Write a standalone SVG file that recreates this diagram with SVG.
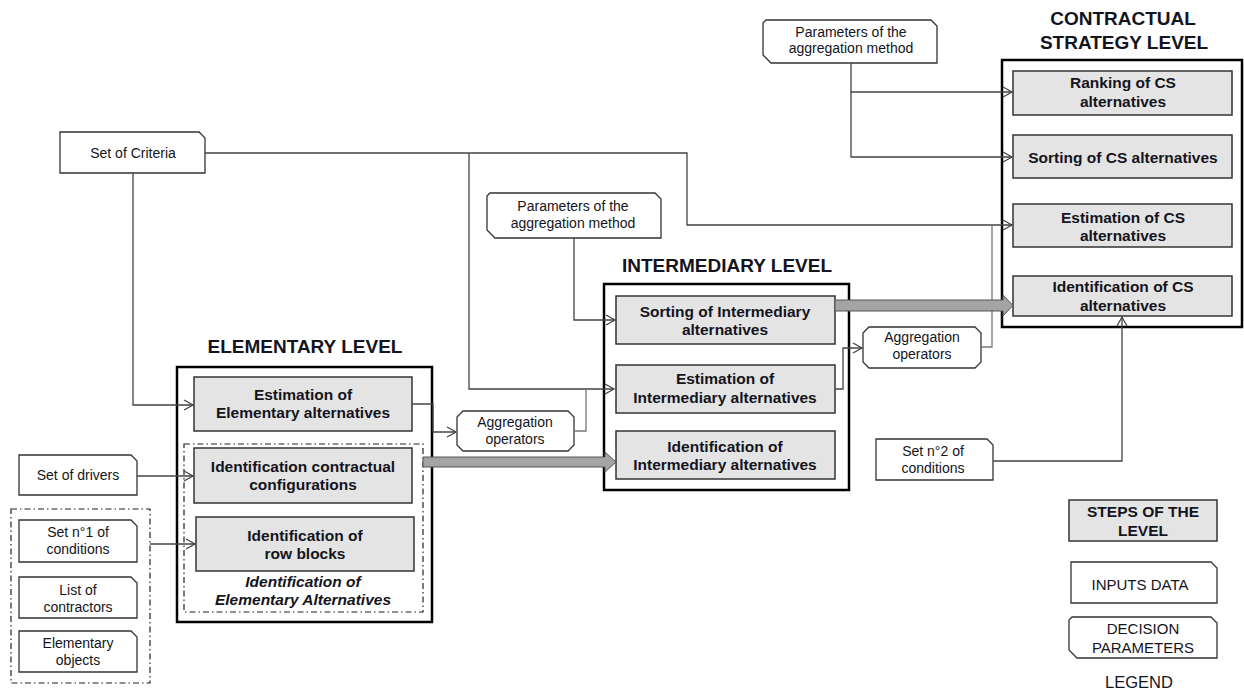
<svg xmlns="http://www.w3.org/2000/svg" width="1244" height="693" viewBox="0 0 1244 693">
<defs>
<style>
.lvl{fill:#fff;stroke:#000;stroke-width:2.5}
.step{fill:#e4e4e4;stroke:#333;stroke-width:1.5}
.inp{fill:#fff;stroke:#333;stroke-width:1.3}
.grp{fill:none;stroke:#222;stroke-width:1.2;stroke-dasharray:6,3,1.5,3}
.con{fill:none;stroke:#444;stroke-width:1.3}
.con2{fill:none;stroke:#777;stroke-width:1.3}
.big{fill:#a4a4a4;stroke:#555;stroke-width:1}
text{font-family:"Liberation Sans",Arial,sans-serif;fill:#141420;text-anchor:middle}
.t{font-size:19px;font-weight:bold}
.s{font-size:15.5px;font-weight:bold}
.i{font-size:14px}
.it{font-size:15.5px;font-weight:bold;font-style:italic}
.lg{font-size:15px}
</style>
<marker id="ar" markerUnits="userSpaceOnUse" markerWidth="12" markerHeight="12" refX="10" refY="6" orient="auto">
<path d="M1,1 L10,6 L1,11" fill="none" stroke="#444" stroke-width="1.3"/>
</marker>
</defs>

<!-- level titles -->
<text class="t" x="305" y="353">ELEMENTARY LEVEL</text>
<text class="t" x="727" y="272">INTERMEDIARY LEVEL</text>
<text class="t" x="1123" y="25">CONTRACTUAL</text>
<text class="t" x="1124" y="49">STRATEGY LEVEL</text>

<!-- level boxes -->
<g id="elementary-level">
<rect class="lvl" x="177" y="367" width="255" height="255"/>
<rect class="grp" x="184" y="444" width="239" height="168"/>
<text class="it" x="303" y="587">Identification  of</text>
<text class="it" x="303" y="605">Elementary Alternatives</text>
</g>
<g id="intermediary-level"><rect class="lvl" x="604" y="284" width="245" height="206"/></g>
<g id="cs-level"><rect class="lvl" x="1002" y="60" width="240" height="267"/></g>

<!-- step nodes -->
<g id="est-elem"><rect class="step" x="194" y="377" width="218" height="54"/>
<text class="s" x="303" y="400">Estimation of</text><text class="s" x="303" y="418">Elementary alternatives</text></g>
<g id="id-config"><rect class="step" x="194" y="448" width="218" height="55"/>
<text class="s" x="303" y="472">Identification contractual</text><text class="s" x="303" y="490">configurations</text></g>
<g id="id-rows"><rect class="step" x="196" y="517" width="218" height="54"/>
<text class="s" x="305" y="541">Identification of</text><text class="s" x="305" y="559">row blocks</text></g>

<g id="sort-inter"><rect class="step" x="616" y="296" width="219" height="48"/>
<text class="s" x="725" y="317">Sorting of Intermediary</text><text class="s" x="725" y="335">alternatives</text></g>
<g id="est-inter"><rect class="step" x="616" y="365" width="219" height="48"/>
<text class="s" x="725" y="384">Estimation of</text><text class="s" x="725" y="403">Intermediary alternatives</text></g>
<g id="id-inter"><rect class="step" x="616" y="431" width="219" height="48"/>
<text class="s" x="725" y="452">Identification of</text><text class="s" x="725" y="470">Intermediary alternatives</text></g>

<g id="rank-cs"><rect class="step" x="1013" y="71" width="219" height="44"/>
<text class="s" x="1123" y="88">Ranking of CS</text><text class="s" x="1123" y="107">alternatives</text></g>
<g id="sort-cs"><rect class="step" x="1013" y="135" width="219" height="43"/>
<text class="s" x="1123" y="163">Sorting of CS alternatives</text></g>
<g id="est-cs"><rect class="step" x="1013" y="204" width="219" height="43"/>
<text class="s" x="1123" y="223">Estimation of CS</text><text class="s" x="1123" y="241">alternatives</text></g>
<g id="id-cs"><rect class="step" x="1013" y="276" width="219" height="40"/>
<text class="s" x="1123" y="292">Identification of  CS</text><text class="s" x="1123" y="311">alternatives</text></g>

<!-- input nodes -->
<g id="set-criteria"><path class="inp" d="M60,132 H199 L205,138 V173 H60 Z"/>
<text class="i" x="133" y="158">Set of Criteria</text></g>
<g id="set-drivers"><path class="inp" d="M19,455 H131 L137,461 V495 H19 Z"/>
<text class="i" x="78" y="480">Set of drivers</text></g>
<g id="elem-group"><rect class="grp" x="11" y="509" width="139" height="174"/></g>
<g id="set-cond1"><path class="inp" d="M19,520 H131 L137,526 V562 H19 Z"/>
<text class="i" x="78" y="537">Set n°1 of</text><text class="i" x="78" y="554">conditions</text></g>
<g id="list-contractors"><path class="inp" d="M19,577 H131 L137,583 V618 H19 Z"/>
<text class="i" x="78" y="595">List of</text><text class="i" x="78" y="612">contractors</text></g>
<g id="elem-objects"><path class="inp" d="M19,631 H131 L137,637 V672 H19 Z"/>
<text class="i" x="78" y="648">Elementary</text><text class="i" x="78" y="665">objects</text></g>
<g id="set-cond2"><path class="inp" d="M876,439 H987 L993,445 V480 H876 Z"/>
<text class="i" x="933" y="456">Set n°2 of</text><text class="i" x="933" y="473">conditions</text></g>

<!-- decision parameters -->
<g id="params-mid"><path class="inp" d="M490,193 H655 L661,199 V238 H495 L487,230 V196 Z"/>
<text class="i" x="573" y="211">Parameters of the</text><text class="i" x="573" y="228">aggregation method</text></g>
<g id="params-top"><path class="inp" d="M766,20 H931 L937,26 V63 H771 L763,55 V23 Z"/>
<text class="i" x="851" y="37">Parameters of the</text><text class="i" x="851" y="53">aggregation method</text></g>
<g id="agg-left"><path class="inp" d="M463,411 H568 L574,417 V445 L568,451 H463 L457,445 V417 Z"/>
<text class="i" x="515" y="427">Aggregation</text><text class="i" x="515" y="444">operators</text></g>
<g id="agg-right"><path class="inp" d="M869,327 H975 L981,333 V362 L975,368 H869 L863,362 V333 Z"/>
<text class="i" x="922" y="342">Aggregation</text><text class="i" x="922" y="359">operators</text></g>

<!-- connectors -->
<g id="connectors">
<path class="con" d="M133,173 V405 H193" marker-end="url(#ar)"/>
<path class="con" d="M205,153 H687 V225 H1012" marker-end="url(#ar)"/>
<path class="con" d="M469,153 V389 H614" marker-end="url(#ar)"/>
<path class="con" d="M137,476 H193" marker-end="url(#ar)"/>
<path class="con" d="M150,544 H195" marker-end="url(#ar)"/>
<path class="con" d="M412,404 H433 V432 H456" marker-end="url(#ar)"/>
<path class="con2" d="M574,431 H586 V389"/>
<path class="con" d="M574,238 V320 H615" marker-end="url(#ar)"/>
<path class="con" d="M835,389 H843 V348 H862" marker-end="url(#ar)"/>
<path class="con2" d="M981,347 H992 V225"/>
<path class="con" d="M851,63 V92 H1012" marker-end="url(#ar)"/>
<path class="con" d="M851,92 V157 H1012" marker-end="url(#ar)"/>
<path class="con" d="M993,461 H1122 V317" marker-end="url(#ar)"/>
<path class="big" d="M423,457 H605 V452 L616,462 L605,472 V467 H423 Z"/>
<path class="big" d="M835,300 H1003 V295 L1013,305.5 L1003,316 V311 H835 Z"/>
</g>

<!-- legend -->
<g id="legend">
<rect class="step" x="1069" y="500" width="148" height="41"/>
<text class="s" x="1143" y="517">STEPS OF THE</text><text class="s" x="1143" y="536">LEVEL</text>
<path class="inp" d="M1071,562 H1211 L1217,568 V603 H1071 Z"/>
<text class="lg" x="1140" y="590">INPUTS DATA</text>
<path class="inp" d="M1072,617 H1211 L1217,623 V658 H1077 L1069,650 V620 Z"/>
<text class="lg" x="1143" y="634">DECISION</text><text class="lg" x="1143" y="653">PARAMETERS</text>
<text class="lg" x="1139" y="688" style="font-size:16.5px">LEGEND</text>
</g>
</svg>
